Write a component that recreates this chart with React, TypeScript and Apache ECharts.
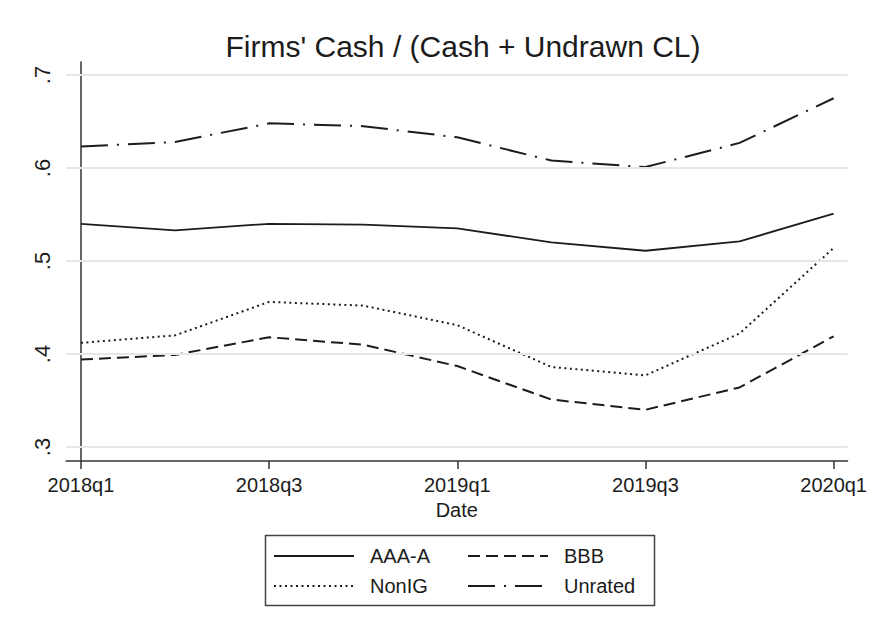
import React, { useEffect, useRef } from "react";
import * as echarts from "echarts";

const quarters = ["2018q1", "2018q2", "2018q3", "2018q4", "2019q1", "2019q2", "2019q3", "2019q4", "2020q1"];
const aaaA = [0.540, 0.533, 0.540, 0.539, 0.535, 0.520, 0.511, 0.521, 0.551];
const bbb = [0.394, 0.399, 0.418, 0.410, 0.387, 0.351, 0.340, 0.364, 0.419];
const nonIG = [0.412, 0.420, 0.456, 0.452, 0.431, 0.386, 0.377, 0.422, 0.514];
const unrated = [0.623, 0.628, 0.648, 0.645, 0.633, 0.608, 0.601, 0.627, 0.675];
const seriesNames = ["AAA-A", "BBB", "NonIG", "Unrated"];
const yTicks = [0.3, 0.4, 0.5, 0.6, 0.7];
const xTickIdx = [0, 2, 4, 6, 8];

const FONT = "'Liberation Sans', Arial, Helvetica, sans-serif";
const INK = "#1c1c1c";

const styles: Record<string, any> = {
  "AAA-A": { color: INK, width: 1.8, type: "solid" },
  BBB: { color: INK, width: 2, type: [12, 6] },
  NonIG: { color: INK, width: 2, type: [2, 3.5] },
  Unrated: { color: INK, width: 2, type: [27, 9, 2, 9] },
};

function pairs(vals: number[]) {
  return vals.map((v, i) => [i, v]);
}

export default function App() {
  const ref = useRef<HTMLDivElement>(null);
  useEffect(() => {
    if (!ref.current) return;
    const chart = echarts.init(ref.current, null, { renderer: "svg" });
    const lineBase = { type: "line", symbol: "circle", showSymbol: false, z: 3, silent: true };
    const hidden = { color: "rgba(0,0,0,0)", borderColor: "rgba(0,0,0,0)", borderWidth: 0 };
    chart.setOption({
      animation: false,
      backgroundColor: "#ffffff",
      title: {
        text: "Firms' Cash / (Cash + Undrawn CL)",
        left: 458,
        top: 26,
        textAlign: "center",
        textStyle: { fontFamily: FONT, fontWeight: "normal", fontSize: 30, color: INK },
      },
      grid: { left: 66, right: 20, top: 62, bottom: 174 },
      xAxis: {
        type: "value",
        min: -0.159,
        max: 8.148,
        name: "Date",
        nameLocation: "middle",
        nameGap: 37,
        nameTextStyle: { fontFamily: FONT, fontSize: 20, color: INK },
        axisLine: { show: true, lineStyle: { color: "#333", width: 1.5 } },
        axisTick: { show: true, customValues: xTickIdx, length: 8, lineStyle: { color: "#333", width: 1.5 } },
        axisLabel: {
          customValues: xTickIdx,
          margin: 14,
          fontFamily: FONT,
          fontSize: 20,
          color: INK,
          formatter: (v: number) => quarters[Math.round(v)] ?? "",
        },
        splitLine: { show: false },
      },
      yAxis: {
        type: "value",
        min: 0.2849,
        max: 0.714,
        axisLine: { show: true, lineStyle: { color: "#333", width: 1.5 } },
        axisTick: { show: true, customValues: yTicks, length: 7, lineStyle: { color: "#333", width: 1.5 } },
        axisLabel: {
          customValues: yTicks,
          rotate: 90,
          margin: 13,
          fontFamily: FONT,
          fontSize: 22,
          color: INK,
          formatter: (v: number) => "." + Math.round(v * 10),
        },
        splitLine: { show: false },
      },
      graphic: [
        {
          type: "rect",
          left: 263,
          top: 533,
          shape: { width: 389, height: 70 },
          style: { fill: "none", stroke: "#444", lineWidth: 1.5 },
          silent: true,
          z: 0,
        },
      ],
      legend: {
        data: seriesNames.map((name) => ({ name, lineStyle: styles[name], itemStyle: hidden })),
        orient: "horizontal",
        left: 263,
        top: 533,
        width: 390,
        padding: [8, 0, 2, 10],
        itemGap: 0,
        itemWidth: 80,
        itemHeight: 20,
        selectedMode: false,
        itemStyle: hidden,
        textStyle: {
          fontFamily: FONT,
          fontSize: 20,
          color: INK,
          width: 97,
          lineHeight: 30,
          padding: [0, 0, 0, 11],
        },
      },
      series: [
        {
          type: "line",
          name: "grid",
          data: [],
          z: 1,
          silent: true,
          markLine: {
            silent: true,
            symbol: "none",
            label: { show: false },
            lineStyle: { color: "#e6e6e6", width: 2, type: "solid" },
            data: yTicks.map((t) => ({ yAxis: t })),
          },
        },
        ...seriesNames.map((name, k) => ({
          ...lineBase,
          name,
          data: pairs([aaaA, bbb, nonIG, unrated][k]),
          lineStyle: styles[name],
          itemStyle: { color: INK },
        })),
      ],
    });
    return () => chart.dispose();
  }, []);
  return <div ref={ref} style={{ position: "absolute", left: 0, top: 0, width: 870, height: 635 }} />;
}
